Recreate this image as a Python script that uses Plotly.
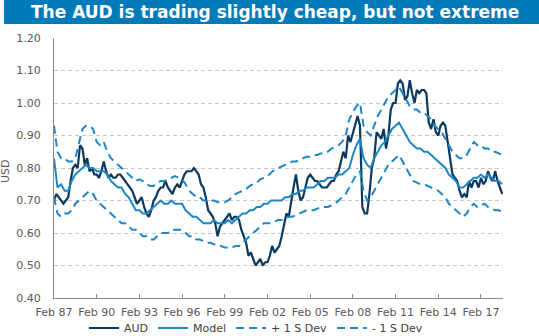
import pandas as pd
import plotly.graph_objects as go

# AUD/USD spot, bi-monthly (Feb, Apr, Jun, Aug, Oct, Dec), Feb 1987 - Aug 2018
aud = [
    0.70, 0.72, 0.71, 0.70, 0.69, 0.70,   # 1987
    0.71, 0.76, 0.80, 0.81, 0.80, 0.87,   # 1988
    0.86, 0.81, 0.83, 0.79, 0.80, 0.78,   # 1989
    0.78, 0.77, 0.79, 0.82, 0.79, 0.77,   # 1990
    0.78, 0.77, 0.77, 0.78, 0.78, 0.77,   # 1991
    0.76, 0.75, 0.74, 0.73, 0.71, 0.69,   # 1992
    0.70, 0.71, 0.68, 0.66, 0.65, 0.67,   # 1993
    0.70, 0.71, 0.73, 0.74, 0.74, 0.76,   # 1994
    0.74, 0.73, 0.72, 0.74, 0.75, 0.74,   # 1995
    0.76, 0.78, 0.79, 0.79, 0.79, 0.80,   # 1996
    0.79, 0.78, 0.75, 0.74, 0.71, 0.67,   # 1997
    0.66, 0.65, 0.63, 0.59, 0.62, 0.63,   # 1998
    0.64, 0.65, 0.66, 0.64, 0.65, 0.65,   # 1999
    0.64, 0.61, 0.59, 0.57, 0.53, 0.54,   # 2000
    0.52, 0.50, 0.51, 0.52, 0.50, 0.51,   # 2001
    0.51, 0.53, 0.56, 0.54, 0.55, 0.56,   # 2002
    0.59, 0.62, 0.66, 0.65, 0.70, 0.74,   # 2003
    0.78, 0.73, 0.70, 0.71, 0.74, 0.77,   # 2004
    0.78, 0.77, 0.76, 0.76, 0.75, 0.74,   # 2005
    0.74, 0.74, 0.75, 0.76, 0.76, 0.78,   # 2006
    0.79, 0.82, 0.85, 0.83, 0.90, 0.88,   # 2007
    0.91, 0.93, 0.96, 0.93, 0.68, 0.66,   # 2008
    0.66, 0.72, 0.80, 0.83, 0.91, 0.90,   # 2009
    0.89, 0.92, 0.86, 0.90, 0.98, 1.00,   # 2010
    1.00, 1.06, 1.07, 1.06, 1.01, 1.02,   # 2011
    1.07, 1.03, 1.00, 1.04, 1.03, 1.04,   # 2012
    1.04, 1.03, 0.94, 0.92, 0.95, 0.91,   # 2013
    0.90, 0.93, 0.94, 0.93, 0.88, 0.82,   # 2014
    0.78, 0.77, 0.76, 0.73, 0.71, 0.72,   # 2015
    0.71, 0.76, 0.74, 0.76, 0.76, 0.74,   # 2016
    0.77, 0.75, 0.76, 0.79, 0.77, 0.76,   # 2017
    0.79, 0.76, 0.74, 0.72,               # 2018
]

# Fair-value model and +/- 1 standard deviation bands, quarterly (Feb, May, Aug, Nov)
model = [
    0.83, 0.74, 0.75, 0.73,  # 1987
    0.73, 0.76, 0.78, 0.79,  # 1988
    0.80, 0.81, 0.80, 0.80,  # 1989
    0.79, 0.79, 0.79, 0.78,  # 1990
    0.76, 0.75, 0.74, 0.74,  # 1991
    0.72, 0.71, 0.69, 0.67,  # 1992
    0.67, 0.66, 0.66, 0.67,  # 1993
    0.68, 0.69, 0.70, 0.69,  # 1994
    0.69, 0.70, 0.69, 0.69,  # 1995
    0.69, 0.67, 0.66, 0.65,  # 1996
    0.65, 0.64, 0.63, 0.63,  # 1997
    0.63, 0.64, 0.63, 0.63,  # 1998
    0.63, 0.64, 0.63, 0.64,  # 1999
    0.65, 0.66, 0.66, 0.67,  # 2000
    0.67, 0.68, 0.68, 0.69,  # 2001
    0.69, 0.70, 0.70, 0.70,  # 2002
    0.70, 0.71, 0.71, 0.72,  # 2003
    0.72, 0.73, 0.73, 0.74,  # 2004
    0.74, 0.74, 0.75, 0.76,  # 2005
    0.76, 0.77, 0.77, 0.77,  # 2006
    0.78, 0.78, 0.79, 0.80,  # 2007
    0.84, 0.87, 0.89, 0.83,  # 2008
    0.81, 0.80, 0.83, 0.85,  # 2009
    0.87, 0.88, 0.90, 0.92,  # 2010
    0.93, 0.94, 0.92, 0.90,  # 2011
    0.88, 0.87, 0.86, 0.86,  # 2012
    0.85, 0.85, 0.84, 0.83,  # 2013
    0.82, 0.81, 0.80, 0.78,  # 2014
    0.77, 0.76, 0.74, 0.74,  # 2015
    0.75, 0.76, 0.77, 0.77,  # 2016
    0.78, 0.77, 0.78, 0.77,  # 2017
    0.76, 0.76, 0.75,        # 2018
]

upper = [
    0.93, 0.85, 0.83, 0.83,    # 1987
    0.82, 0.82, 0.83, 0.88,    # 1988
    0.92, 0.93, 0.93, 0.92,    # 1989
    0.88, 0.87, 0.88, 0.85,    # 1990
    0.83, 0.82, 0.81, 0.80,    # 1991
    0.79, 0.78, 0.77, 0.76,    # 1992
    0.765, 0.76, 0.75, 0.745,  # 1993
    0.745, 0.755, 0.76, 0.76,  # 1994
    0.765, 0.77, 0.775, 0.77,  # 1995
    0.765, 0.75, 0.73, 0.72,   # 1996
    0.71, 0.71, 0.70, 0.70,    # 1997
    0.70, 0.70, 0.695, 0.695,  # 1998
    0.695, 0.70, 0.71, 0.72,   # 1999
    0.725, 0.73, 0.735, 0.745, # 2000
    0.75, 0.755, 0.765, 0.77,  # 2001
    0.775, 0.785, 0.795, 0.80, # 2002
    0.805, 0.81, 0.815, 0.82,  # 2003
    0.82, 0.825, 0.83, 0.835,  # 2004
    0.835, 0.84, 0.84, 0.845,  # 2005
    0.845, 0.85, 0.86, 0.865,  # 2006
    0.87, 0.88, 0.90, 0.95,    # 2007
    0.97, 0.99, 1.00, 0.93,    # 2008
    0.91, 0.90, 0.93, 0.96,    # 2009
    0.98, 1.00, 1.02, 1.03,    # 2010
    1.04, 1.05, 1.03, 1.01,    # 2011
    0.99, 0.98, 0.98, 0.97,    # 2012
    0.97, 0.96, 0.95, 0.93,    # 2013
    0.92, 0.91, 0.89, 0.87,    # 2014
    0.85, 0.84, 0.83, 0.83,    # 2015
    0.84, 0.86, 0.88, 0.87,    # 2016
    0.87, 0.86, 0.86, 0.85,    # 2017
    0.85, 0.845, 0.84,         # 2018
]

lower = [
    0.71, 0.66, 0.65, 0.66,    # 1987
    0.66, 0.67, 0.69, 0.70,    # 1988
    0.71, 0.72, 0.73, 0.72,    # 1989
    0.70, 0.69, 0.68, 0.67,    # 1990
    0.66, 0.65, 0.64, 0.63,    # 1991
    0.63, 0.62, 0.61, 0.61,    # 1992
    0.60, 0.59, 0.59, 0.58,    # 1993
    0.58, 0.59, 0.60, 0.60,    # 1994
    0.60, 0.61, 0.61, 0.61,    # 1995
    0.61, 0.60, 0.59, 0.59,    # 1996
    0.58, 0.58, 0.575, 0.57,   # 1997
    0.57, 0.565, 0.56, 0.56,   # 1998
    0.555, 0.555, 0.555, 0.56, # 1999
    0.56, 0.57, 0.58, 0.59,    # 2000
    0.60, 0.61, 0.62, 0.63,    # 2001
    0.63, 0.63, 0.635, 0.64,   # 2002
    0.64, 0.645, 0.65, 0.65,   # 2003
    0.655, 0.66, 0.665, 0.67,  # 2004
    0.67, 0.67, 0.675, 0.68,   # 2005
    0.68, 0.68, 0.685, 0.69,   # 2006
    0.70, 0.71, 0.72, 0.74,    # 2007
    0.76, 0.78, 0.79, 0.73,    # 2008
    0.70, 0.71, 0.73, 0.75,    # 2009
    0.77, 0.79, 0.81, 0.82,    # 2010
    0.83, 0.84, 0.82, 0.80,    # 2011
    0.78, 0.76, 0.755, 0.75,   # 2012
    0.75, 0.745, 0.74, 0.735,  # 2013
    0.73, 0.72, 0.71, 0.69,    # 2014
    0.68, 0.67, 0.66, 0.65,    # 2015
    0.66, 0.68, 0.69, 0.68,    # 2016
    0.685, 0.69, 0.68, 0.675,  # 2017
    0.67, 0.67, 0.665,         # 2018
]

tick_years = [1987, 1990, 1993, 1996, 1999, 2002, 2005, 2008, 2011, 2014, 2017]
tick_labels = ["Feb 87", "Feb 90", "Feb 93", "Feb 96", "Feb 99", "Feb 02",
               "Feb 05", "Feb 08", "Feb 11", "Feb 14", "Feb 17"]

aud_dates = pd.date_range("1987-02-01", periods=len(aud), freq="2MS")
q_dates = pd.date_range("1987-02-01", periods=len(model), freq="3MS")
tick_dates = [f"{y}-02-01" for y in tick_years]

NAVY = "#0B3A5E"
BLUE = "#1C86C6"
FONT = "DejaVu Sans"

fig = go.Figure()
fig.add_trace(go.Scatter(x=aud_dates, y=aud, name="AUD", mode="lines",
                         line=dict(color=NAVY, width=2.2)))
fig.add_trace(go.Scatter(x=q_dates, y=model, name="Model", mode="lines",
                         line=dict(color=BLUE, width=2)))
fig.add_trace(go.Scatter(x=q_dates, y=upper, name="+ 1 S Dev", mode="lines",
                         line=dict(color=BLUE, width=2, dash="8px,5px")))
fig.add_trace(go.Scatter(x=q_dates, y=lower, name="- 1 S Dev", mode="lines",
                         line=dict(color=BLUE, width=2, dash="8px,5px")))

L, R, T, B = 54, 36, 38, 38
W, H = 539, 336
pw, ph = W - L - R, H - T - B


def px_x(px):
    return (px - L) / pw


def px_y(py):
    return (H - B - py) / ph


fig.update_layout(
    width=W, height=H,
    margin=dict(l=L, r=R, t=T, b=B, autoexpand=False),
    paper_bgcolor="white", plot_bgcolor="white",
    font=dict(family=FONT, size=11, color="#595959"),
    showlegend=True,
    legend=dict(orientation="h", x=px_x(256), xanchor="center",
                y=px_y(328), yanchor="middle",
                font=dict(family=FONT, size=11, color="#404040"),
                itemwidth=30, tracegroupgap=0, bgcolor="rgba(0,0,0,0)"),
    xaxis=dict(type="date", range=["1987-02-01", "2018-08-20"],
               tickvals=tick_dates, ticktext=tick_labels,
               ticks="inside", ticklen=4, tickcolor="#8C8C8C", tickwidth=1,
               showline=True, linecolor="#8C8C8C", linewidth=1,
               showgrid=False, zeroline=False, ticklabelstandoff=4,
               tickfont=dict(family=FONT, size=11, color="#595959")),
    yaxis=dict(range=[0.40, 1.20], dtick=0.10, tick0=0.40, tickformat=".2f",
               showline=True, linecolor="#8C8C8C", linewidth=1,
               showgrid=True, gridcolor="#C8C8C8", griddash="4px,3px", gridwidth=1,
               zeroline=False, ticks="", ticklabelstandoff=10,
               tickfont=dict(family=FONT, size=11, color="#595959")),
    shapes=[dict(type="rect", xref="paper", yref="paper",
                 x0=px_x(4), x1=px_x(539), y0=px_y(24), y1=px_y(0),
                 fillcolor="#007AB8", line=dict(width=0), layer="above")],
    annotations=[
        dict(text="<b>The AUD is trading slightly cheap, but not extreme</b>",
             xref="paper", yref="paper", x=px_x(275), y=px_y(12),
             xanchor="center", yanchor="middle", showarrow=False,
             font=dict(family=FONT, size=17, color="white")),
        dict(text="USD", xref="paper", yref="paper", x=px_x(5), y=px_y(171),
             xanchor="center", yanchor="middle", textangle=-90, showarrow=False,
             font=dict(family=FONT, size=11, color="#595959")),
    ],
)

fig.write_html("out.html")
